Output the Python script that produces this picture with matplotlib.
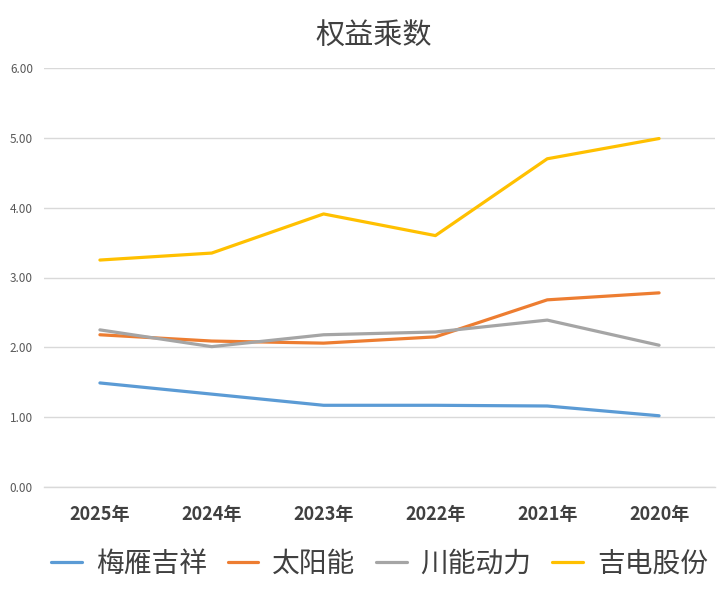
import matplotlib.pyplot as plt

plt.rcParams['font.family'] = ['Noto Sans CJK SC', 'DejaVu Sans']

years = ['2025年', '2024年', '2023年', '2022年', '2021年', '2020年']
meiyan = [1.49, 1.33, 1.17, 1.17, 1.16, 1.02]
taiyang = [2.18, 2.09, 2.06, 2.15, 2.68, 2.78]
chuanneng = [2.25, 2.01, 2.18, 2.22, 2.39, 2.03]
jidian = [3.25, 3.35, 3.91, 3.60, 4.70, 4.99]

series = [('梅雁吉祥', meiyan, '#5b9bd5'),
          ('太阳能', taiyang, '#ed7d31'),
          ('川能动力', chuanneng, '#a5a5a5'),
          ('吉电股份', jidian, '#ffc000')]

fig = plt.figure(figsize=(7.19, 5.97), dpi=100)
ax = fig.add_axes([44/719, 110/597, 671/719, 419/597])

x = range(len(years))
for name, vals, c in series:
    ax.plot(x, vals, color=c, linewidth=2.3, label=name, solid_capstyle='round')

ax.set_xlim(-0.5, len(years) - 0.5)
ax.set_ylim(0, 6)
ax.set_yticks([0, 1, 2, 3, 4, 5, 6])
ax.set_yticklabels([f'{v:.2f}' for v in range(7)])
ax.set_xticks(list(x))
ax.set_xticklabels(years, fontsize=13, fontweight='bold', color='#404040')
ax.tick_params(axis='y', labelsize=8.5, labelcolor='#595959', length=0, pad=8)
ax.tick_params(axis='x', length=0, pad=13)
ax.grid(axis='y', color='#d9d9d9', linewidth=1)
ax.axhline(0, color='#d9d9d9', linewidth=1, clip_on=False, zorder=0)
ax.set_axisbelow(True)
for s in ax.spines.values():
    s.set_visible(False)

fig.text(0.52, 0.94, '权益乘数', ha='center', va='center', fontsize=21, color='#404040')
fig.legend(loc='center', bbox_to_anchor=(0.528, 0.056), ncol=4, frameon=False,
           fontsize=20, labelcolor='#404040', handlelength=1.1, columnspacing=0.75,
           handletextpad=0.5)

fig.savefig('out.png', dpi=100)
